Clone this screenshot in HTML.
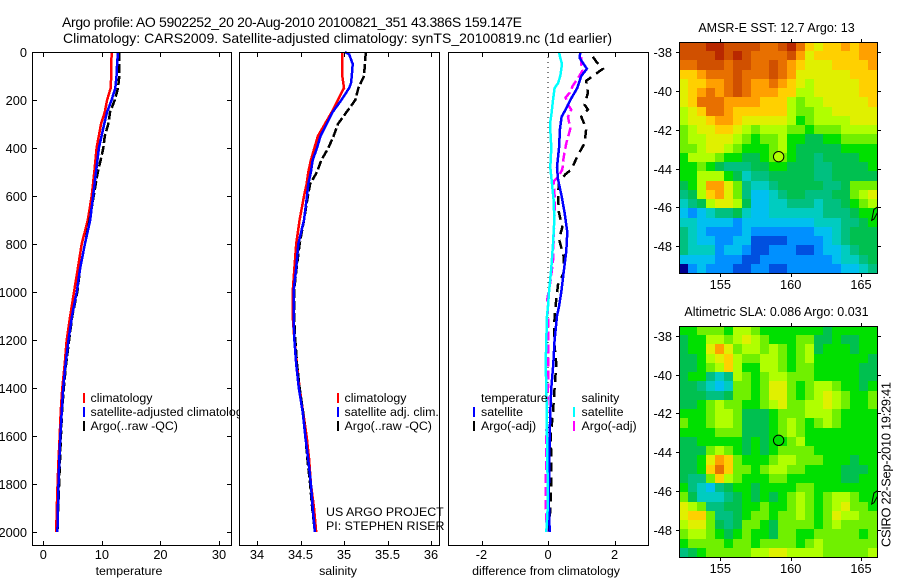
<!DOCTYPE html>
<html lang="en">
<head>
<meta charset="utf-8">
<title>Argo profile 5902252_20</title>
<style>
html,body{margin:0;padding:0;background:#fff;}
svg{display:block;font-family:"Liberation Sans",Arial,sans-serif;fill:#000;}
text{font-size:12px;}
</style>
</head>
<body>
<svg id="chart" xmlns="http://www.w3.org/2000/svg" width="900" height="580" viewBox="0 0 900 580"></svg>
<script>
// ---------- profile data ----------
const tempClimDepth = [0,100,150,200,250,300,400,500,600,700,800,900,1000,1100,1200,1300,1400,1500,1600,1700,1800,1900,2000];
const tempClimValues = [11.67,11.6,11.5,10.9,10.5,9.85,9.1,8.7,8.26,7.6,6.55,5.9,5.25,4.6,4.0,3.65,3.25,2.97,2.8,2.6,2.45,2.3,2.2];
const tempSatDepth = [0,50,100,150,200,250,300,400,500,600,700,800,900,1000,1100,1200,1300,1400,1500,1600,1700,1800,1900,2000];
const tempSatValues = [12.75,12.6,12.5,12.3,11.67,10.9,10.4,9.5,9.0,8.5,8.0,7.1,6.3,5.7,4.9,4.3,3.8,3.4,3.14,2.9,2.73,2.6,2.5,2.4];
const tempArgoDepth = [0,100,150,200,250,300,350,400,450,500,600,700,800,900,1000,1100,1200,1300,1400,1500,1600,1700,1800,1900,2000];
const tempArgoValues = [12.97,12.97,12.75,12.2,11.4,11.1,10.5,10.25,9.8,9.3,8.6,7.9,7.1,6.3,5.8,4.95,4.4,3.9,3.5,3.2,3.0,2.85,2.7,2.55,2.4];

const salClimDepth = [0,100,150,200,250,300,350,400,450,500,550,600,700,800,900,1000,1100,1200,1300,1400,1500,1600,1700,1800,1900,2000];
const salClimValues = [34.98,34.98,35.0,34.93,34.86,34.78,34.70,34.66,34.62,34.59,34.57,34.54,34.49,34.45,34.43,34.41,34.41,34.43,34.46,34.49,34.53,34.57,34.60,34.62,34.655,34.68];
const salSatDepth = [0,10,50,100,130,150,200,250,300,350,400,450,500,550,600,700,800,900,1000,1100,1200,1300,1400,1500,1600,1700,1800,1900,2000];
const salSatValues = [35.01,35.06,35.10,35.09,35.08,35.06,34.97,34.87,34.80,34.73,34.69,34.64,34.62,34.59,34.575,34.54,34.475,34.45,34.42,34.42,34.43,34.45,34.48,34.525,34.555,34.59,34.62,34.64,34.665];
const salArgoDepth = [0,100,150,200,250,300,350,400,450,500,550,600,700,800,900,1000,1100,1200,1300,1400,1500,1600,1700,1800,1900,2000];
const salArgoValues = [35.25,35.23,35.165,35.13,35.03,34.93,34.88,34.82,34.74,34.69,34.61,34.585,34.54,34.49,34.455,34.425,34.425,34.44,34.46,34.49,34.53,34.555,34.58,34.61,34.635,34.665];

const diffTempSatDepth = [0,25,50,70,100,150,200,240,270,320,400,480,530,600,670,750,830,920,1000,1060,1100,1200,1300,1400,1500,1600,1700,1800,1900,2000];
const diffTempSatValues = [0.97,0.95,1.07,1.17,1.0,0.88,0.67,0.53,0.41,0.36,0.33,0.27,0.30,0.41,0.5,0.58,0.55,0.47,0.4,0.33,0.27,0.2,0.16,0.1,0.07,0.05,0.04,0.03,0.03,0.05];
const diffSalSatDepth = [0,25,50,100,130,150,200,250,300,400,480,550,620,700,800,900,1000,1060,1100,1200,1300,1400,1500,1600,1700,1800,1900,2000];
const diffSalSatValues = [0.33,0.37,0.42,0.37,0.3,0.2,0.15,0.11,0.06,0.1,0.07,0.12,0.17,0.19,0.15,0.1,0.03,0,-0.03,-0.05,-0.07,-0.05,-0.04,-0.03,-0.02,-0.01,-0.01,-0.05];
const diffTempArgoDepth = [20,40,70,90,120,170,220,240,270,320,380,430,490,510,540,600,670,730,780,850,920,970,1030,1100,1200,1300,1400,1500,1600,1700,1800,1900,2000];
const diffTempArgoValues = [1.35,1.45,1.65,1.45,1.15,1.2,1.1,1.2,1.0,1.15,1.1,0.9,0.7,0.52,0.33,0.3,0.33,0.43,0.33,0.47,0.47,0.3,0.25,0.2,0.18,0.25,0.2,0.15,0.08,0.1,0.1,0.07,0.03];
const diffSalArgoDepth = [20,50,80,110,140,170,190,220,240,270,320,380,440,490,520,540,600,670,770,870,960,1030,1100,1200,1300,1400,1500,1600,1700,1800,1900,2000];
const diffSalArgoValues = [1.0,1.0,1.03,0.9,0.75,0.65,0.53,0.6,0.7,0.6,0.67,0.55,0.47,0.43,0.3,0.17,0.2,0.2,0.17,0.15,0.07,-0.02,0,0,0,0,-0.03,-0.05,-0.05,-0.07,-0.07,-0.03];
const zeroLineDepth = [0,2000];
const zeroLineValues = [0,0];

// ---------- tick labels ----------
const depthTicks = [0,200,400,600,800,1000,1200,1400,1600,1800,2000];
const tempTicks = [0,10,20,30];
const salTicks = [34,34.5,35,35.5,36];
const diffTicks = [-2,0,2];
const lonTicks = [155,160,165];
const latTicks = [-38,-40,-42,-44,-46,-48];

// ---------- map data (colour-scale levels, north to south, west to east) ----------
const sstValues = [
[14,14,14,15,15,14,14,14,14,13,13,14,15,13,11,10,11,11,12,11,12,12],
[14,14,14,14,15,14,15,14,13,13,13,13,14,12,10,11,11,11,11,11,12,12],
[13,13,14,14,14,13,14,14,13,13,14,13,12,11,10,10,10,11,11,11,11,12],
[11,11,12,13,13,13,14,13,13,13,14,13,12,10,10,10,10,10,10,11,11,11],
[10,11,11,12,12,13,14,13,12,12,13,12,11,10,9,10,10,10,10,10,11,11],
[10,11,12,13,12,13,14,13,12,12,12,11,11,9,9,10,10,10,10,10,11,11],
[10,11,13,13,13,12,12,12,12,11,11,11,9,8,9,9,10,10,10,10,10,11],
[9,10,11,13,13,12,11,11,11,11,11,11,9,8,8,9,9,10,10,10,10,10],
[9,10,10,11,12,12,11,10,10,10,10,10,9,7,8,9,9,9,9,10,10,10],
[8,9,10,10,11,11,10,9,8,9,9,9,8,8,7,8,8,8,9,9,9,9],
[8,9,9,10,10,10,9,8,7,8,8,9,7,7,6,6,7,7,8,8,8,8],
[8,8,9,10,10,9,8,7,7,7,8,9,7,6,6,6,6,6,7,7,7,7],
[7,9,9,9,8,7,7,6,6,7,8,8,7,6,6,5,6,6,6,6,7,7],
[7,7,8,7,6,5,5,5,6,6,7,7,6,6,6,5,5,6,6,6,6,7],
[7,7,9,9,9,7,6,4,5,5,6,6,6,6,6,5,5,6,6,6,6,6],
[6,7,9,12,12,10,8,5,4,4,5,6,6,6,6,6,5,5,6,8,8,8],
[5,6,9,11,12,10,8,5,3,3,4,5,6,6,5,5,5,6,6,8,9,10],
[4,5,6,9,10,10,9,6,3,3,4,4,5,5,5,4,5,5,6,7,8,9],
[3,2,3,4,5,5,6,4,3,3,4,4,4,4,4,4,5,5,5,6,7,7],
[4,4,3,3,3,3,2,3,3,3,3,3,3,3,3,4,4,4,5,5,6,7],
[5,4,3,2,2,2,2,3,2,2,2,2,2,2,2,3,3,4,5,6,6,6],
[5,4,3,3,2,2,3,3,1,1,1,1,2,2,2,2,3,4,5,6,6,6],
[5,4,4,4,2,3,3,2,1,1,2,2,2,1,1,2,3,3,4,5,6,6],
[3,3,3,3,2,2,2,1,1,2,2,2,2,2,2,2,2,3,4,4,5,6],
[0,2,3,2,2,2,1,1,2,2,1,1,2,2,2,2,2,2,3,3,4,5]
];
const slaValues = [
[7,7,8,8,8,7,9,9,8,7,7,7,7,7,7,7,6,7,7,7,7,7],
[6,7,7,9,9,8,9,10,9,8,7,7,7,8,8,6,6,7,6,6,7,7],
[6,7,7,10,12,10,8,9,9,8,9,8,7,8,9,6,7,7,7,6,7,7],
[6,6,7,9,10,11,9,8,8,9,9,8,7,8,9,7,7,7,7,7,7,6],
[6,6,7,8,9,11,9,7,7,9,9,8,7,8,8,7,7,7,7,7,6,6],
[6,7,7,5,4,5,9,8,7,8,9,9,8,8,8,7,7,7,7,7,6,6],
[6,6,5,4,3,4,8,8,7,8,10,10,8,7,8,9,9,8,7,7,6,7],
[6,6,6,5,5,6,8,8,7,8,10,10,8,7,8,9,10,9,8,7,7,8],
[6,6,7,8,9,8,8,7,7,8,9,10,8,8,9,9,10,9,8,7,7,8],
[7,7,7,8,9,9,8,6,6,6,7,8,8,8,9,9,9,8,7,7,7,7],
[8,7,7,8,9,9,8,6,6,6,7,8,9,8,7,8,9,8,7,7,7,7],
[7,7,7,7,8,8,8,6,6,6,7,8,9,8,7,7,7,7,7,7,7,7],
[6,6,7,7,7,7,7,6,7,6,7,7,8,9,7,7,7,7,7,7,7,7],
[6,6,6,8,9,8,7,6,7,6,7,8,8,8,8,7,7,7,7,7,7,7],
[6,6,7,10,12,11,8,7,7,7,8,9,9,8,8,8,7,7,7,6,7,7],
[6,6,7,11,13,11,8,8,7,8,9,9,8,8,7,7,7,7,6,6,6,7],
[6,5,5,8,11,9,8,7,7,7,8,8,7,7,7,7,7,7,6,6,7,7],
[7,5,4,3,5,6,7,7,6,7,7,7,7,8,8,7,7,7,7,7,7,7],
[8,6,4,4,4,5,6,7,6,7,6,7,8,9,8,7,8,9,9,8,7,7],
[10,9,8,5,5,6,6,7,7,8,7,7,8,9,8,7,8,9,10,8,8,7],
[10,11,11,8,5,5,6,7,8,8,7,8,8,9,8,7,8,10,9,9,8,8],
[9,10,10,8,6,5,6,8,8,7,6,8,8,8,8,7,8,9,8,8,8,8],
[8,9,9,8,7,6,7,8,7,7,6,8,8,7,7,8,8,8,8,8,7,8],
[7,8,8,8,8,7,8,8,7,8,8,8,8,7,8,9,8,8,8,8,8,8],
[5,6,7,8,8,8,8,8,9,9,10,10,9,9,9,9,8,8,8,8,8,9]
];
const colourScale = ['#000090','#0050e0','#0090ff','#00c0f0','#00ccc0','#00c080','#00c050','#00e000','#70f000','#b0ff00','#e0f000','#ffd000','#ffa000','#e87000','#d05000','#b82800'];
const floatLon = [159.147];
const floatLat = [-43.386];
const sstFloatLevel = [9];
const slaFloatLevel = [7];
const coastLon = [166.16,165.92,165.76,165.92,166.16];
const coastLat = [-45.98,-46.1,-46.66,-46.6,-46.28];

// ---------- helpers ----------
const SVG_NS = 'http://www.w3.org/2000/svg';
const svg = document.getElementById('chart');
function make(tag, attrs, parent) {
  const e = document.createElementNS(SVG_NS, tag);
  for (const k in attrs) e.setAttribute(k, attrs[k]);
  (parent || svg).appendChild(e);
  return e;
}
function label(txt, x, y, anchor, parent, size, fit) {
  const attrs = {x: x, y: y, 'text-anchor': anchor || 'start'};
  attrs.style = 'font-size:' + (size || 12.4) + 'px';
  if (fit) { attrs.textLength = fit; attrs.lengthAdjust = 'spacing'; }
  const t = make('text', attrs, parent);
  t.textContent = txt;
  return t;
}
function linear(d0, d1, r0, r1) {
  return function (v) { return r0 + (v - d0) * (r1 - r0) / (d1 - d0); };
}
const yDepth = linear(0, 2000, 52, 532);

function panel(name, left, right) {
  const g = make('g', {}, svg);
  
  
  const bg = make('rect', {x: left, y: 52, width: right - left + 1, height: 494, fill: '#fff'}, g);
  
  
  return g;
}
function panelFrame(name, g, left, right, xScale, xTicks, showDepth) {
  const f = make('rect', {x: left + 0.5, y: 52.5, width: right - left, height: 493, fill: 'none', stroke: '#000', 'stroke-width': 1, 'shape-rendering': 'crispEdges'}, g);
  
  
  xTicks.forEach(function (v) {
    const x = Math.round(xScale(v)) + 0.5;
    const tt = make('path', {d: 'M' + x + ' 53V57M' + x + ' 545V541', stroke: '#000', fill: 'none', 'shape-rendering': 'crispEdges'}, g);
    
    
    const tl = label(String(v), xScale(v), 559, 'middle', g, 12.8);
    
    
  });
  if (showDepth) {
    depthTicks.forEach(function (d) {
      const y = Math.round(yDepth(d)) + 0.5;
      const tk = make('path', {d: 'M' + (left + 1) + ' ' + y + 'h4M' + right + ' ' + y + 'h-4', stroke: '#000', fill: 'none', 'shape-rendering': 'crispEdges'}, g);
      
      
      const dl = label(String(d), left - 5, y + 4.5, 'end', g, 12.8);
      
      
    });
  }
}
function profile(name, g, depths, values, xScale, colour, dash, width) {
  const pts = depths.map(function (d, i) { return xScale(values[i]).toFixed(1) + ',' + yDepth(d).toFixed(1); }).join(' ');
  const attrs = {points: pts, fill: 'none', stroke: colour, 'stroke-width': width || 2.5, 'shape-rendering': 'crispEdges'};
  if (dash) attrs['stroke-dasharray'] = dash;
  const l = make('polyline', attrs, g);
  
  
}
function legendEntry(name, g, x, y, colour, txt, barX) {
  if (colour) {
    const b = make('rect', {x: barX, y: y - 9, width: 2, height: 10, fill: colour}, g);
    
    
  }
  const t = label(txt, x, y, 'start', g, 12.4);
  
  
}

// ---------- titles ----------
const title1 = label('Argo profile: AO 5902252_20 20-Aug-2010 20100821_351 43.386S 159.147E', 62, 27, 'start', svg, 14, 460);


const title2 = label('Climatology: CARS2009. Satellite-adjusted climatology: synTS_20100819.nc (1d earlier)', 63, 43, 'start', svg, 14, 549);



// ---------- temperature panel ----------
const xTemp = linear(0, 30, 43.3, 219);
const gT = panel('temperature', 32, 231);
profile('temperature-climatology-line', gT, tempClimDepth, tempClimValues, xTemp, '#ff0000');
profile('temperature-argo-line', gT, tempArgoDepth, tempArgoValues, xTemp, '#000000', '9 3');
profile('temperature-satellite-line', gT, tempSatDepth, tempSatValues, xTemp, '#0000ff');
panelFrame('temperature', gT, 32, 231, xTemp, tempTicks, true);
const xlT = label('temperature', 129, 575, 'middle', gT, 12.4);


legendEntry('temperature-legend-climatology', gT, 90.5, 402, '#ff0000', 'climatology', 83);
legendEntry('temperature-legend-satellite', gT, 90.5, 416, '#0000ff', 'satellite-adjusted climatology', 83);
legendEntry('temperature-legend-argo', gT, 90.5, 430, '#000000', 'Argo(..raw -QC)', 83);

// ---------- salinity panel ----------
const xSal = linear(34, 36, 257, 431);
const gS = panel('salinity', 239, 439);
profile('salinity-climatology-line', gS, salClimDepth, salClimValues, xSal, '#ff0000');
profile('salinity-argo-line', gS, salArgoDepth, salArgoValues, xSal, '#000000', '9 3');
profile('salinity-satellite-line', gS, salSatDepth, salSatValues, xSal, '#0000ff');
panelFrame('salinity', gS, 239, 439, xSal, salTicks, false);
const xlS = label('salinity', 338, 575, 'middle', gS, 12.4);


legendEntry('salinity-legend-climatology', gS, 344.5, 402, '#ff0000', 'climatology', 337);
legendEntry('salinity-legend-satellite', gS, 344.5, 416, '#0000ff', 'satellite adj. clim.', 337);
legendEntry('salinity-legend-argo', gS, 344.5, 430, '#000000', 'Argo(..raw -QC)', 337);
const us = label('US ARGO PROJECT', 326, 516, 'start', gS, 12.4);


const pi = label('PI: STEPHEN RISER', 326, 530, 'start', gS, 12.4);



// ---------- difference panel ----------
const xDiff = linear(-2, 2, 481.5, 614.5);
const gD = panel('difference', 448, 648);
profile('zero-reference-line', gD, zeroLineDepth, zeroLineValues, xDiff, '#000000', '1 4', 1);
profile('difference-salinity-argo-line', gD, diffSalArgoDepth, diffSalArgoValues, xDiff, '#ff00ff', '9 4');
profile('difference-temperature-argo-line', gD, diffTempArgoDepth, diffTempArgoValues, xDiff, '#000000', '9 6');
profile('difference-temperature-satellite-line', gD, diffTempSatDepth, diffTempSatValues, xDiff, '#0000ff');
profile('difference-salinity-satellite-line', gD, diffSalSatDepth, diffSalSatValues, xDiff, '#00ffff');
panelFrame('difference', gD, 448, 648, xDiff, diffTicks, false);
const xlD = label('difference from climatology', 546, 575, 'middle', gD, 12.4);


legendEntry('difference-legend-temperature-heading', gD, 481, 402, null, 'temperature', 473);
legendEntry('difference-legend-temperature-satellite', gD, 481, 416, '#0000ff', 'satellite', 473);
legendEntry('difference-legend-temperature-argo', gD, 481, 430, '#000000', 'Argo(-adj)', 473);
legendEntry('difference-legend-salinity-heading', gD, 581.5, 402, null, 'salinity', 573);
legendEntry('difference-legend-salinity-satellite', gD, 581.5, 416, '#00ffff', 'satellite', 573);
legendEntry('difference-legend-salinity-argo', gD, 581.5, 430, '#ff00ff', 'Argo(-adj)', 573);

// ---------- maps ----------
function drawMap(name, titleText, grid, floatLevel, top, bottom, yAt38, yAt48) {
  const left = 679, right = 877;
  const g = make('g', {}, svg);
  
  
  const xLon = linear(155, 165, 720.3, 861);
  const yLat = linear(-38, -48, yAt38, yAt48);
  const rows = grid.length, cols = grid[0].length;
  const cw = (right - left) / cols, ch = (bottom - top) / rows;
  grid.forEach(function (row, r) {
    row.forEach(function (v, c) {
      const x0 = Math.round(left + c * cw), x1 = Math.round(left + (c + 1) * cw);
      const y0 = Math.round(top + r * ch), y1 = Math.round(top + (r + 1) * ch);
      const cell = make('rect', {x: x0, y: y0, width: x1 - x0, height: y1 - y0, fill: colourScale[v], 'shape-rendering': 'crispEdges'}, g);
      
      
    });
  });
  const frame = make('rect', {x: left + 0.5, y: top + 0.5, width: right - left, height: bottom - top, fill: 'none', stroke: '#000', 'shape-rendering': 'crispEdges'}, g);
  
  
  lonTicks.forEach(function (lon) {
    const x = Math.round(xLon(lon)) + 0.5;
    const t = make('path', {d: 'M' + x + ' ' + top + 'v-3M' + x + ' ' + (bottom + 1) + 'v3', stroke: '#000', fill: 'none', 'shape-rendering': 'crispEdges'}, g);
    
    
    const tl = label(String(lon), xLon(lon), bottom + 16, 'middle', g, 12.8);
    
    
  });
  latTicks.forEach(function (lat) {
    const y = Math.round(yLat(lat)) + 0.5;
    const t = make('path', {d: 'M' + left + ' ' + y + 'h-3M' + (right + 1) + ' ' + y + 'h3', stroke: '#000', fill: 'none', 'shape-rendering': 'crispEdges'}, g);
    
    
    const tl = label(String(lat), left - 7, y + 4.5, 'end', g, 12.8);
    
    
  });
  const coast = make('polyline', {points: coastLon.map(function (lon, i) { return xLon(lon).toFixed(1) + ',' + yLat(coastLat[i]).toFixed(1); }).join(' '), fill: 'none', stroke: '#000', 'stroke-width': 1}, g);
  
  
  const marker = make('circle', {cx: xLon(floatLon[0]), cy: yLat(floatLat[0]), r: 5.2, fill: colourScale[floatLevel[0]], stroke: '#000', 'stroke-width': 1}, g);
  
  
  const tt = label(titleText, 776.5, top - 10, 'middle', g, 12.5);
  
  
}
drawMap('sst', 'AMSR-E SST: 12.7 Argo: 13', sstValues, sstFloatLevel, 42, 273, 52, 246.3);
drawMap('sla', 'Altimetric SLA: 0.086 Argo: 0.031', slaValues, slaFloatLevel, 326, 557, 335.7, 530);

const stamp = label('CSIRO 22-Sep-2010 19:29:41', 0, 0, 'start', svg, 12.8, 165);
stamp.setAttribute('transform', 'translate(890.5,547) rotate(-90)');


</script>
</body>
</html>
